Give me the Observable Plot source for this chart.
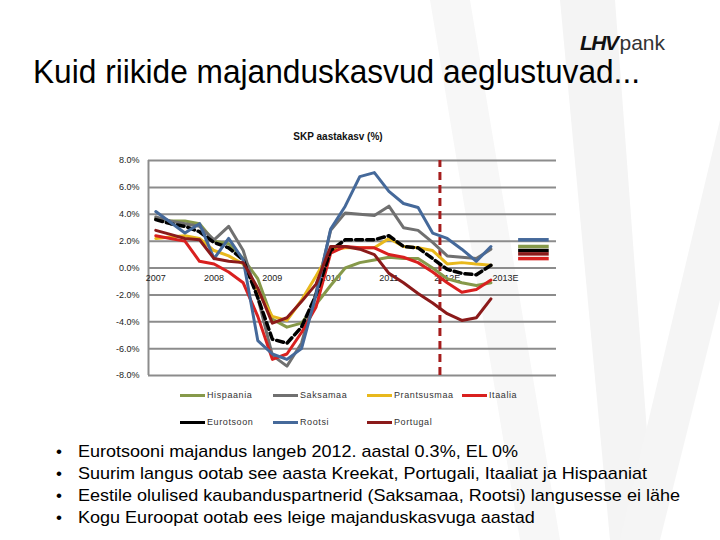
<!DOCTYPE html>
<html><head><meta charset="utf-8">
<script src="https://cdn.jsdelivr.net/npm/d3@7"></script>
<script src="https://cdn.jsdelivr.net/npm/@observablehq/plot@0.6"></script>
<style>
body{margin:0;background:#fff;}
#wrap{position:relative;width:720px;height:540px;overflow:hidden;font-family:"Liberation Sans",Arial,sans-serif;background:#fff;}
.abs{position:absolute;white-space:nowrap;}
.wm{position:absolute;left:0;top:0;width:720px;height:540px;}
.leg{position:absolute;font-size:9px;color:#333;letter-spacing:0.6px;line-height:10px;}
.sw{position:absolute;width:25px;height:3px;}
.bul{position:absolute;left:0;font-size:17px;line-height:20px;color:#000;white-space:nowrap;}
</style></head><body>
<div id="wrap">
  <div class="wm" style="background:#f4f4f4;clip-path:polygon(560px 0,615px 0,655px 540px,610px 540px)"></div>
  <div class="wm" style="background:#f7f7f7;clip-path:polygon(430px 0,470px 0,560px 540px,520px 540px)"></div>
  <div class="wm" style="background:#f5f5f5;clip-path:polygon(720px 120px,720px 300px,660px 540px,620px 540px)"></div>
  <div id="chart" class="abs" style="left:0;top:0"></div>
  <div id="logo" class="abs" style="left:580px;top:34px;font-size:21px;line-height:18px;color:#111"><span style="font-weight:bold;font-style:italic;letter-spacing:-1.5px">LHV</span><span style="margin-left:2px;color:#333">pank</span></div>
  <div id="title" class="abs" style="left:33px;top:55px;font-size:34px;line-height:32px;color:#000;transform-origin:0 0">Kuid riikide majanduskasvud aeglustuvad...</div>
  <div id="ctitle" class="abs" style="left:0;width:676px;text-align:center;top:131px;font-size:10px;font-weight:bold;color:#111">SKP aastakasv (%)</div>
  <div id="legend"></div>
  <div id="bullets"></div>
</div>
<script>
// ---- data ----
const yearLabels = ["2007", "2008", "2009", "2010", "2011", "2012E", "2013E"];
const seriesNames = ["Hispaania", "Saksamaa", "Prantsusmaa", "Itaalia", "Eurotsoon", "Rootsi", "Portugal"];
const seriesColors = ["#86994a", "#707070", "#e8b81c", "#d9201f", "#000000", "#45699a", "#8b1a1a"];
// quarterly yoy GDP growth, 2007Q1 .. 2012Q4 (%)
const hispaania   = [3.7, 3.5, 3.5, 3.3, 2.0, 1.8, 0.7, -0.8, -3.8, -4.4, -4.1, -2.7, -1.3, 0.0, 0.4, 0.6, 0.8, 0.7, 0.7, 0.0, -0.8, -1.1, -1.3, -1.1];
const saksamaa    = [3.8, 3.5, 3.3, 3.1, 2.1, 3.1, 1.3, -2.2, -6.5, -7.3, -5.6, -1.8, 2.8, 4.1, 4.0, 3.9, 4.6, 3.0, 2.8, 1.9, 0.9, 0.8, 0.7, 1.4];
const prantsusmaa = [2.2, 2.3, 2.4, 2.2, 1.3, 0.9, 0.3, -1.7, -3.6, -3.9, -2.4, -0.6, 1.3, 1.5, 1.5, 1.5, 2.2, 1.6, 1.5, 1.3, 0.3, 0.4, 0.3, 0.2];
const itaalia     = [2.4, 2.2, 2.0, 0.5, 0.3, -0.3, -1.1, -3.6, -6.8, -6.4, -4.8, -2.9, 1.1, 1.6, 1.5, 1.5, 1.0, 0.8, 0.4, -0.3, -1.1, -1.8, -1.6, -0.9];
const eurotsoon   = [3.6, 3.3, 3.1, 2.7, 1.9, 1.5, 0.6, -2.2, -5.3, -5.6, -4.4, -2.0, 1.3, 2.1, 2.1, 2.1, 2.4, 1.6, 1.5, 0.7, -0.1, -0.4, -0.5, 0.2];
const rootsi      = [4.2, 3.4, 2.6, 3.3, 0.7, 2.2, 0.6, -5.4, -6.4, -6.8, -6.0, -2.0, 2.9, 4.6, 6.8, 7.1, 5.7, 4.8, 4.5, 2.6, 2.2, 1.4, 0.5, 1.6];
const portugal    = [2.8, 2.5, 2.2, 2.1, 0.7, 0.5, 0.4, -1.5, -4.1, -3.7, -2.5, -1.2, 1.6, 1.6, 1.4, 1.0, -0.4, -1.1, -1.9, -2.6, -3.4, -3.9, -3.7, -2.3];
const seriesValues = [hispaania, saksamaa, prantsusmaa, itaalia, eurotsoon, rootsi, portugal];
// 2013E annual estimates (short segments on the right)
const est2013Names  = ["Rootsi", "Hispaania", "Eurotsoon", "Portugal", "Itaalia"];
const est2013Values = [2.1, 1.6, 1.3, 1.05, 0.7];
const yTicks = [8, 6, 4, 2, 0, -2, -4, -6, -8];
const quartersPerYear = 4;
const forecastStart = 19.5; // between 2011Q4 and 2012Q1
const bulletTexts = [
  "Eurotsooni majandus langeb 2012. aastal 0.3%,  EL 0%",
  "Suurim langus ootab see aasta Kreekat, Portugali, Itaaliat ja Hispaaniat",
  "Eestile olulised kaubanduspartnerid (Saksamaa, Rootsi) langusesse ei lähe",
  "Kogu Euroopat ootab ees leige majanduskasvuga aastad"
];

// ---- build ----
const colorOf = Object.fromEntries(seriesNames.map((n, i) => [n, seriesColors[i]]));
const rows = seriesNames.flatMap((name, s) => seriesValues[s].map((v, i) => ({series: name, q: i, value: v})));
const nCats = yearLabels.length * quartersPerYear;
const est = est2013Names.map((n, i) => ({series: n, value: est2013Values[i]}));

const lineMarks = seriesNames.map(name => Plot.line(rows.filter(r => r.series === name), {
  x: "q", y: "value", stroke: colorOf[name],
  strokeWidth: name === "Eurotsoon" ? 3.5 : 3,
  strokeDasharray: name === "Eurotsoon" ? "7,4" : null,
  strokeLinejoin: "round"
}));

const chart = Plot.plot({
  width: 720, height: 540,
  marginLeft: 148, marginRight: 164, marginTop: 160, marginBottom: 165,
  style: {fontFamily: "'Liberation Sans', Arial, sans-serif", fontSize: "9px", background: "transparent"},
  x: {domain: [-0.5, nCats - 0.5], axis: null},
  y: {domain: [-8, 8], axis: null},
  marks: [
    Plot.ruleY(yTicks, {stroke: "#8c8c8c", strokeWidth: 2}),
    Plot.ruleX([-0.5], {stroke: "#8c8c8c", strokeWidth: 2}),
    Plot.text(yTicks, {x: -0.5, y: d => d, text: d => d.toFixed(1) + "%", textAnchor: "end", dx: -9, fill: "#222", fontSize: 9}),
    Plot.text(yearLabels, {x: (d, i) => i * quartersPerYear, y: 0, dy: 10, text: d => d, fill: "#222", fontSize: 9}),
    Plot.ruleX([forecastStart], {y1: -8, y2: 8, stroke: "#a51d1d", strokeWidth: 3, strokeDasharray: "8,5"}),
    ...lineMarks,
    Plot.ruleY(est, {y: "value", x1: 24.9, x2: 27, stroke: d => colorOf[d.series], strokeWidth: 3.5,
      strokeDasharray: d => d.series === "Eurotsoon" ? "7,3" : null})
  ]
});
document.getElementById("chart").appendChild(chart);

// legend
const legendPos = [[180, 390], [273, 390], [367, 390], [462, 390], [180, 417], [273, 417], [367, 417]];
const leg = document.getElementById("legend");
seriesNames.forEach((n, i) => {
  const [lx, ly] = legendPos[i];
  const sw = document.createElement("div");
  sw.className = "sw"; sw.style.left = lx + "px"; sw.style.top = (ly + 3.5) + "px"; sw.style.background = colorOf[n];
  leg.appendChild(sw);
  const t = document.createElement("div");
  t.className = "leg"; t.style.left = (lx + 27) + "px"; t.style.top = ly + "px"; t.textContent = n;
  leg.appendChild(t);
});

// bullets
const bl = document.getElementById("bullets");
const lineEls = [];
bulletTexts.forEach((txt, i) => {
  const top = 442 + i * 22;
  const dot = document.createElement("div");
  dot.className = "bul"; dot.style.left = "56px"; dot.style.top = top + "px"; dot.textContent = "•";
  bl.appendChild(dot);
  const t = document.createElement("div");
  t.className = "bul"; t.style.left = "78px"; t.style.top = top + "px"; t.style.transformOrigin = "0 0";
  t.textContent = txt;
  bl.appendChild(t); lineEls.push(t);
});
// fit widths
const ti = document.getElementById("title");
ti.style.transform = `scaleX(${607 / ti.getBoundingClientRect().width})`;
const bs = 602 / lineEls[2].getBoundingClientRect().width;
lineEls.forEach(e => e.style.transform = `scaleX(${bs})`);
</script>
</body></html>
